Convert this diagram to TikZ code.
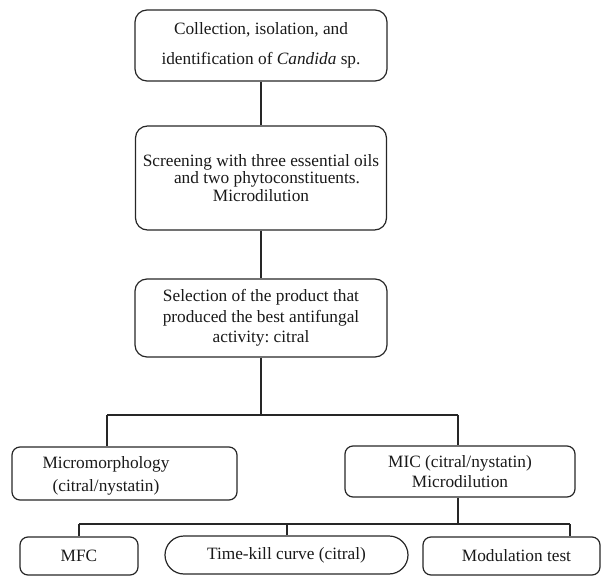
\documentclass[tikz,border=0pt]{standalone}
\usepackage{fontspec}
\setmainfont{Liberation Serif}
\frenchspacing
\begin{document}
\begin{tikzpicture}[x=1pt,y=-1pt,
  line width=1.2pt,
  every node/.style={text=black!90},
  bigbox/.style={draw=black!85,rounded corners=12pt,align=center,inner sep=0pt},
  smallbox/.style={draw=black!85,rounded corners=8pt,align=center,inner sep=0pt},
  conn/.style={draw=black!85,line width=1.2pt},
  txt/.style={align=center,inner sep=0pt}]
\useasboundingbox (0,0) rectangle (611,586);

\node[bigbox,minimum width=252pt,minimum height=71pt,font=\fontsize{17.3}{30}\selectfont]
  (b1) at (261,45.5) {Collection, isolation, and\\identification of \textit{Candida} sp.};
\node[bigbox,minimum width=251pt,minimum height=104pt,font=\fontsize{17.3}{17.5}\selectfont]
  (b2) at (261,178) {Screening with three essential oils\\\hspace*{12pt}and two phytoconstituents.\\Microdilution};
\node[bigbox,minimum width=252pt,minimum height=78pt,font=\fontsize{17.3}{20.5}\selectfont]
  (b3) at (261,318) {Selection of the product that\\produced the best antifungal\\activity: citral};

\node[smallbox,minimum width=225pt,minimum height=53pt] (mm) at (124.5,473.5) {};
\node[txt,font=\fontsize{17.3}{23}\selectfont] (mmt) at (106,476) {Micromorphology\\(citral/nystatin)};
\node[smallbox,minimum width=230pt,minimum height=51pt,font=\fontsize{17.3}{20}\selectfont]
  (mic) at (460,471.5) {MIC (citral/nystatin)\\Microdilution};

\node[smallbox,minimum width=118pt,minimum height=38pt,font=\fontsize{17.3}{19}\selectfont]
  (mfc) at (79,556) {MFC};
\node[draw=black!85,rounded corners=19pt,minimum width=243pt,minimum height=38pt,inner sep=0pt,font=\fontsize{17.3}{19}\selectfont]
  (tk) at (286.5,555) {Time-kill curve (citral)};
\node[smallbox,minimum width=177pt,minimum height=38pt,font=\fontsize{17.3}{19}\selectfont]
  (mod) at (511.5,556) {\hspace*{10pt}Modulation test};

\coordinate (j1) at (261,415);
\coordinate (j1l) at (107,415);
\coordinate (j1r) at (458,415);
\coordinate (j2) at (458,524);
\coordinate (j2l) at (79,524);
\coordinate (j2m) at (287,524);
\coordinate (j2r) at (570,524);

\draw[conn] (b1.south) -- (b2.north);
\draw[conn] (b2.south) -- (b3.north);
\draw[conn] (b3.south) -- (j1);
\draw[conn] (j1l) -- (j1r);
\draw[conn] (j1l) -- (j1l |- mm.north);
\draw[conn] (j1r) -- (j1r |- mic.north);
\draw[conn] (j1r |- mic.south) -- (j2);
\draw[conn] (j2l) -- (j2r);
\draw[conn] (j2l) -- (mfc.north);
\draw[conn] (j2m) -- (tk.north -| j2m);
\draw[conn] (j2r) -- (j2r |- mod.north);
\end{tikzpicture}
\end{document}
